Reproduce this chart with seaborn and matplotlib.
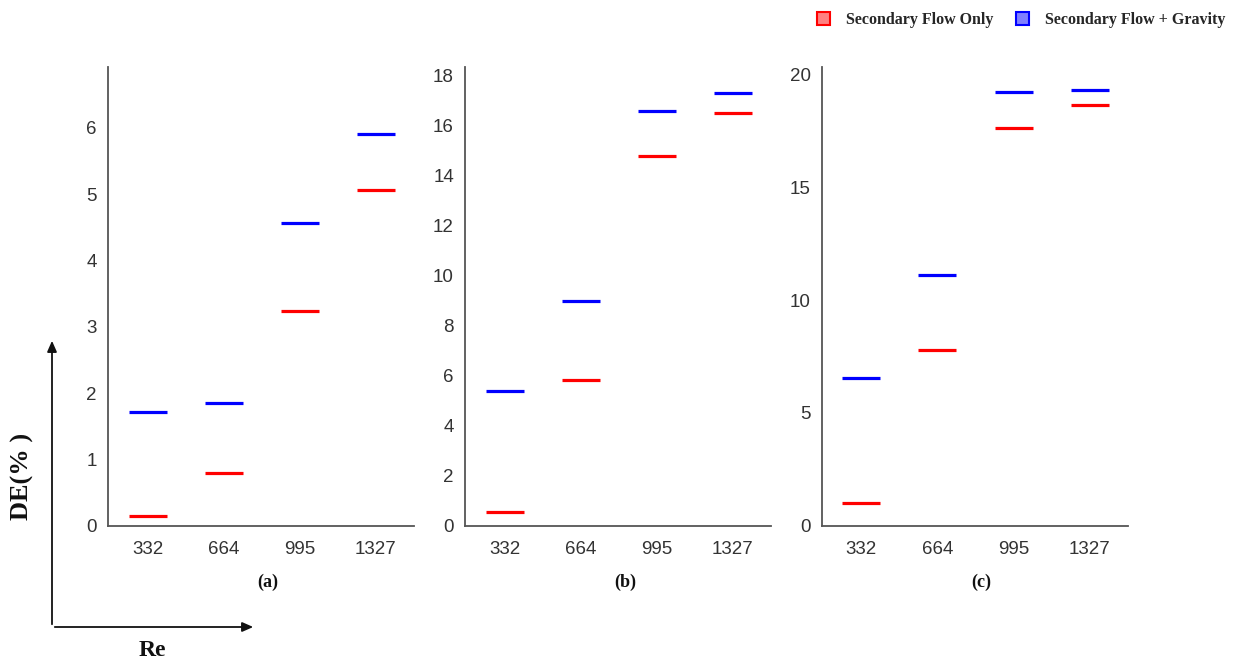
import numpy as np
import pandas as pd
import matplotlib
matplotlib.use("Agg")
import matplotlib.pyplot as plt
from matplotlib import font_manager
from matplotlib.patches import Patch, FancyArrowPatch
import seaborn as sns

# Reynolds numbers (categories on every panel)
re_values = ["332", "664", "995", "1327"]

# DE (%) for the three cases (a), (b), (c)
sec_only_a = [0.15, 0.80, 3.24, 5.07]
sec_grav_a = [1.72, 1.855, 4.56, 5.91]

sec_only_b = [0.56, 5.83, 14.79, 16.52]
sec_grav_b = [5.39, 8.97, 16.57, 17.32]

sec_only_c = [1.00, 7.78, 17.65, 18.64]
sec_grav_c = [6.55, 11.10, 19.22, 19.34]

series_names = ["Secondary Flow Only", "Secondary Flow + Gravity"]
panel_labels = ["(a)", "(b)", "(c)"]
y_ticks = [np.arange(0, 7, 1), np.arange(0, 19, 2), np.arange(0, 21, 5)]
y_tops = [6.92, 18.34, 20.34]

sns.set_theme(style="white")


def pick_font(candidates):
    for name in candidates:
        try:
            font_manager.findfont(name, fallback_to_default=False)
            return name
        except Exception:
            continue
    return "DejaVu Sans"


narrow = pick_font(["Liberation Sans Narrow"])
if narrow == "Liberation Sans Narrow":
    tick_font, tick_size = narrow, 15
else:
    tick_font, tick_size = pick_font(["Liberation Sans", "DejaVu Sans"]), 13.5
serif_font = pick_font(["Liberation Serif", "DejaVu Serif"])
plt.rcParams["font.family"] = [tick_font, "DejaVu Sans"]

palette = {series_names[0]: "#ff0000", series_names[1]: "#0000ff"}
spine_color = "#555555"

fig = plt.figure(figsize=(12.38, 6.64), dpi=100)
W, H = 1238, 664

panel_lefts = [108, 465, 821.7]
ax_w = 306 / W
ax_bottom = 1 - 525.7 / H
ax_h = (525.7 - 67) / H

datasets = [
    (sec_only_a, sec_grav_a),
    (sec_only_b, sec_grav_b),
    (sec_only_c, sec_grav_c),
]

for i, (only, grav) in enumerate(datasets):
    ax = fig.add_axes([panel_lefts[i] / W, ax_bottom, ax_w, ax_h])
    df = pd.DataFrame({
        "Re": re_values * 2,
        "DE": list(only) + list(grav),
        "Case": [series_names[0]] * len(re_values) + [series_names[1]] * len(re_values),
    })
    sns.pointplot(
        data=df, x="Re", y="DE", hue="Case", order=re_values,
        hue_order=series_names, palette=palette,
        markers=["_", "_"], linestyles=["none", "none"],
        markersize=26.8, markeredgewidth=2.3,
        errorbar=None, dodge=False, legend=False, ax=ax,
    )
    ax.set_xlim(-0.52, 3.5)
    ax.set_ylim(0, y_tops[i])
    ax.set_yticks(y_ticks[i])
    ax.set_xlabel("")
    ax.set_ylabel("")
    for side in ["top", "right"]:
        ax.spines[side].set_visible(False)
    for side in ["left", "bottom"]:
        ax.spines[side].set_color(spine_color)
        ax.spines[side].set_linewidth(1.3)
    ax.tick_params(axis="both", which="major", direction="out", length=4,
                   width=1.0, color="#777777", labelsize=tick_size, labelcolor="#333333")
    ax.tick_params(axis="x", pad=7)
    ax.tick_params(axis="y", pad=4)
    ax.grid(False)
    cx = (panel_lefts[i] + 306 / 2 + 7) / W
    fig.text(cx, 1 - 582 / H, panel_labels[i], ha="center", va="center",
             family=serif_font, fontweight="bold", fontsize=13, color="#111111")

# axis direction arrows in the lower-left corner
ox, oy = 52 / W, 1 - 627 / H
fig.add_artist(FancyArrowPatch(
    (ox, oy), (ox, 1 - 338 / H), transform=fig.transFigure,
    arrowstyle="-|>,head_length=5,head_width=2.2", mutation_scale=1.3,
    color="#111111", linewidth=1.3))
fig.add_artist(FancyArrowPatch(
    (ox, oy), (256 / W, oy), transform=fig.transFigure,
    arrowstyle="-|>,head_length=5,head_width=2.2", mutation_scale=1.3,
    color="#111111", linewidth=1.3))
fig.text(22 / W, 1 - 476 / H, "DE(% )", rotation=90, ha="center", va="center",
         family=serif_font, fontweight="bold", fontsize=19, color="#111111")
fig.text(152 / W, 1 - 651 / H, "Re", ha="center", va="center",
         family=serif_font, fontweight="bold", fontsize=17, color="#111111")

handles = [
    Patch(facecolor="#ff8080", edgecolor="#ff0000", linewidth=1.5, label=series_names[0]),
    Patch(facecolor="#8080ff", edgecolor="#0000ff", linewidth=1.5, label=series_names[1]),
]
fig.legend(handles=handles, loc="center right", bbox_to_anchor=(1225 / W, 1 - 20 / H),
           ncol=2, frameon=False, borderpad=0, borderaxespad=0,
           handlelength=0.8, handleheight=0.85, handletextpad=1.0, columnspacing=1.4,
           prop={"family": serif_font, "weight": "bold", "size": 11.5})

fig.savefig("out.png", dpi=100, facecolor="white")
